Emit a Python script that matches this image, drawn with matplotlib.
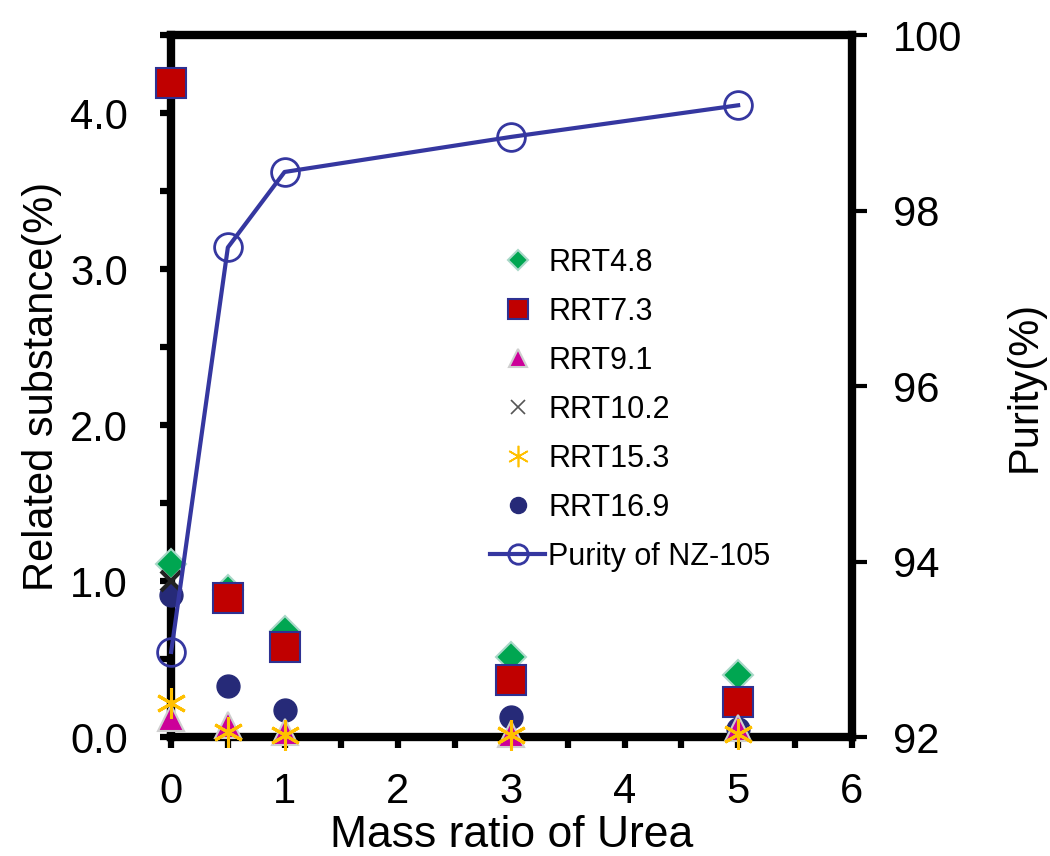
import matplotlib
matplotlib.use("Agg")
import matplotlib.pyplot as plt
from matplotlib.ticker import MultipleLocator

plt.rcParams['font.family'] = ['Liberation Sans', 'DejaVu Sans']

nd = float('nan')  # not detected

# mass ratio of urea added
ratio = [0, 0.5, 1, 3, 5]

# related substances (%)
rrt48 = [1.11, 0.94, 0.68, 0.51, 0.40]
rrt73 = [4.19, 0.89, 0.58, 0.365, 0.225]
rrt91 = [0.12, 0.08, 0.03, 0.02, 0.06]
rrt102 = [1.00, nd, nd, nd, nd]
rrt153 = [0.22, 0.03, 0.01, 0.01, 0.02]
rrt169 = [0.91, 0.33, 0.17, 0.13, 0.05]

# purity of NZ-105 (%)
purity = [92.97, 97.58, 98.44, 98.84, 99.20]

fig = plt.figure(figsize=(10.5, 8.56), dpi=100)
ax = fig.add_axes([0.163, 0.139, 0.648, 0.820])
ax2 = ax.twinx()

spw = 6
kw = dict(linestyle='none', clip_on=False, zorder=5)
h1, = ax.plot(ratio, rrt48, marker='D', ms=15, mfc='#00A651', mec='#A9D8C8', mew=1.5, label='RRT4.8', **kw)
h2, = ax.plot(ratio, rrt73, marker='s', ms=21, mfc='#C00000', mec='#2E3192', mew=1.5, label='RRT7.3', **kw)
h6, = ax.plot(ratio, rrt169, marker='o', ms=16.5, mfc='#262A78', mec='#262A78', mew=1, label='RRT16.9', **kw)
h4, = ax.plot(ratio, rrt102, marker='x', ms=14, color='#222222', mew=3, label='RRT10.2', **kw)
h3, = ax.plot(ratio, rrt91, marker='^', ms=19, mfc='#CC0099', mec='#CFCFCF', mew=1.5, label='RRT9.1', **kw)
h5, = ax.plot(ratio, rrt153, marker=(6, 2, 0), ms=22, color='#FFC000', mew=2.2, label='RRT15.3', **kw)

h7, = ax2.plot(ratio, purity, color='#3537A0', lw=3, marker='o', ms=20, mfc='none',
               mec='#3537A0', mew=2, clip_on=False, zorder=6, label='Purity of NZ-105')

ax.set_xlim(0, 6)
ax.set_ylim(0, 4.5)
ax2.set_ylim(92, 100)

ax.xaxis.set_major_locator(MultipleLocator(1))
ax.xaxis.set_minor_locator(MultipleLocator(0.5))
ax.yaxis.set_major_locator(MultipleLocator(1))
ax.yaxis.set_minor_locator(MultipleLocator(0.5))
ax.set_yticks([0, 1, 2, 3, 4])
ax.set_yticklabels(['0.0', '1.0', '2.0', '3.0', '4.0'])
ax2.set_yticks([92, 94, 96, 98, 100])

ax.spines['right'].set_visible(False)
for side in ['left', 'bottom', 'top']:
    ax.spines[side].set_linewidth(spw)
    ax.spines[side].set_capstyle('projecting')
for side in ['left', 'bottom', 'top']:
    ax2.spines[side].set_visible(False)
ax2.spines['right'].set_linewidth(spw)
ax2.spines['right'].set_capstyle('projecting')

ax.tick_params(axis='both', which='both', direction='out', length=8, width=4.5)
ax.tick_params(axis='y', which='major', labelsize=30, pad=23)
ax.tick_params(axis='x', which='major', labelsize=30, pad=17)
ax.tick_params(top=False, right=False, which='both')
ax2.tick_params(axis='y', direction='out', length=11, width=3, labelsize=30, pad=19)

ax.set_xlabel('Mass ratio of Urea', fontsize=32, labelpad=2)
ax.set_ylabel('Related substance(%)', fontsize=30, labelpad=6)
ax2.set_ylabel('Purity(%)', fontsize=30, labelpad=30)

ax.set_zorder(ax2.get_zorder() - 1)
ax2.patch.set_visible(False)

leg = ax2.legend(handles=[h1, h2, h3, h4, h5, h6, h7], loc='center left',
                 bbox_to_anchor=(0.467, 0.521), bbox_transform=fig.transFigure,
                 frameon=False, fontsize=22, markerscale=0.7, handlelength=1.8,
                 handletextpad=0.1, labelspacing=0.62, borderpad=0, borderaxespad=0)
for hd in leg.legend_handles:
    if hd.get_label() == 'RRT10.2':
        hd.set_markeredgewidth(1.2)
        hd.set_color('#555555')
    if hd.get_label() == 'RRT15.3':
        hd.set_markeredgewidth(1.2)

fig.savefig('out.png', dpi=100)
